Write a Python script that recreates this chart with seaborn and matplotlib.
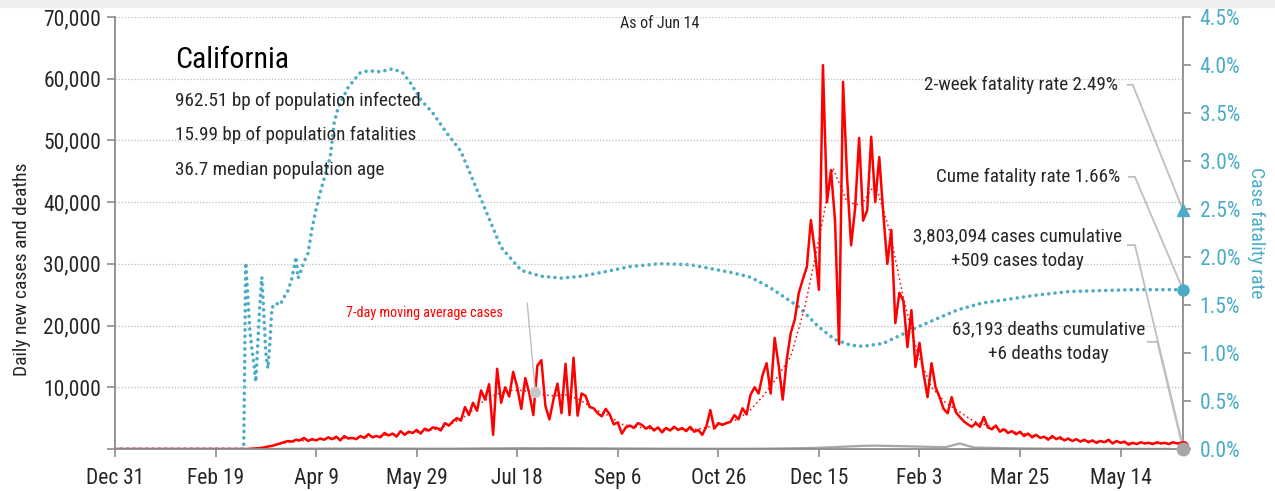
import numpy as np
import pandas as pd
import matplotlib
matplotlib.use('Agg')
import matplotlib.pyplot as plt
import seaborn as sns
from matplotlib.ticker import FuncFormatter
from matplotlib import font_manager

# ---- data ----
start_date = '2019-12-31'
end_date = '2021-06-14'

# daily new cases, sampled every 2 days from Dec 31 2019
daily_cases = [
    0, 0, 0, 0, 0, 0, 0, 0, 0, 0, 0, 0, 0, 0, 0, 0, 0,
    0, 0, 0, 0, 0, 0, 0, 0, 0, 0, 0, 0, 0, 0, 0, 0, 0,
    50, 100, 150, 250, 400, 500, 700, 900, 1100, 1300, 1200, 1500, 1400, 1800, 1300, 1600,
    1400, 1700, 1500, 1900, 1600, 2000, 1400, 2100, 1700, 1800, 1600, 2100, 1800, 2400, 1900, 2100,
    1900, 2600, 2200, 2500, 2000, 2900, 2300, 2800, 2600, 3100, 2500, 3300, 3000, 3500, 3400, 3000,
    4200, 3800, 4500, 5000, 4600, 6800, 5500, 7500, 6200, 9500, 8000, 10500, 2300, 13000, 7500, 10000,
    8500, 12500, 10000, 6500, 11500, 9000, 5500, 13500, 14400, 7000, 4800, 8000, 10600, 5800, 13800, 5500,
    14800, 5400, 9000, 8600, 6800, 6600, 5800, 5300, 6500, 5600, 4000, 4300, 2500, 3500, 3800, 3400,
    4200, 3900, 3300, 3700, 3000, 3500, 2700, 3400, 3000, 3600, 3100, 3400, 2900, 3600, 2800, 3100,
    2300, 3600, 6300, 3300, 4200, 3900, 4200, 4400, 5500, 4800, 6600, 5600, 8800, 10000, 9000, 12000,
    13900, 9000, 18000, 13500, 8000, 14500, 18800, 21000, 25300, 27500, 29500, 37100, 32000, 25800, 62200, 40000,
    45200, 37000, 17000, 59500, 44000, 33000, 39000, 50400, 37000, 38700, 50600, 40000, 47300, 38200, 30000, 35500,
    20400, 25300, 24000, 16500, 22500, 13300, 17200, 12300, 8400, 13900, 10000, 8400, 6500, 5800, 8400, 6000,
    5200, 4500, 4000, 3600, 4200, 3600, 5200, 3500, 3200, 3800, 2800, 3200, 2600, 2900, 2400, 2800,
    2100, 2500, 1900, 2300, 1800, 2000, 1500, 2100, 1600, 1900, 1400, 1700, 1300, 1600, 1200, 1500,
    1100, 1400, 1000, 1300, 1100, 1500, 900, 1300, 1000, 1200, 700, 1000, 800, 1100, 900, 1000,
    800, 1100, 900, 1000, 800, 1100, 900, 1000,
]

# 7-day moving average of cases, weekly from Dec 31 2019
ma_cases = [
    0, 0, 0, 0, 0, 0, 0, 0, 0, 0,
    100, 400, 1000, 1300, 1500, 1600, 1700, 1800, 2000, 2200,
    2400, 2600, 2900, 3300, 4200, 5500, 7500, 8800, 9500, 9500,
    9000, 8600, 8800, 8000, 6500, 5500, 4000, 3600, 3300, 3200,
    3200, 3100, 3500, 4000, 4600, 6000, 8500, 11500, 15000, 23000,
    34000, 45500, 40000, 39500, 43000, 35500, 24500, 15500, 10000, 7500,
    6000, 4500, 3800, 3200, 2700, 2300, 1900, 1600, 1400, 1300,
    1200, 1100, 1000, 950, 900, 900,
]

# daily deaths, weekly from Dec 31 2019
daily_deaths = [
    0, 0, 0, 0, 0, 0, 0, 0, 0, 0,
    0, 5, 40, 60, 70, 80, 75, 80, 85, 75,
    70, 65, 60, 55, 60, 80, 100, 110, 130, 140,
    130, 140, 130, 120, 110, 100, 90, 80, 70, 60,
    55, 50, 45, 45, 45, 50, 60, 80, 110, 150,
    200, 300, 400, 500, 550, 500, 450, 400, 350, 300,
    900, 250, 200, 150, 110, 90, 70, 60, 50, 45,
    40, 35, 30, 25, 20, 20,
]

# case fatality rate (%), day offsets from Dec 31 2019
cfr_day = [0, 64, 65, 66, 67, 68, 69, 70, 71, 72, 73, 74, 75, 76, 77, 78, 80, 82, 84, 86,
           88, 90, 91, 92, 94, 96, 98, 100, 102, 107, 109, 111, 116, 122, 126, 132, 138, 143, 147, 152,
           158, 165, 172, 182, 192, 202, 212, 222, 232, 242, 256, 271, 286, 296, 306, 316, 325, 333, 340, 350,
           358, 366, 372, 382, 389, 399, 409, 419, 431, 441, 457, 474, 490, 507, 531]
cfr_pct = [0, 0, 1.94, 1.6, 1.25, 1.05, 0.9, 0.7, 1.1, 1.5, 1.79, 1.4, 1.0, 0.84, 1.1, 1.47, 1.52, 1.5, 1.58, 1.65,
           1.78, 2.0, 1.78, 1.83, 1.95, 2.04, 2.3, 2.5, 2.67, 3.04, 3.4, 3.56, 3.77, 3.92, 3.94, 3.93, 3.96, 3.92, 3.81, 3.64,
           3.5, 3.29, 3.1, 2.6, 2.1, 1.86, 1.8, 1.78, 1.8, 1.84, 1.9, 1.93, 1.92, 1.88, 1.84, 1.79, 1.69, 1.58, 1.48, 1.27,
           1.14, 1.08, 1.07, 1.1, 1.17, 1.27, 1.36, 1.45, 1.52, 1.55, 1.6, 1.64, 1.65, 1.66, 1.66]

xtick_labels = ['Dec 31', 'Feb 19', 'Apr 9', 'May 29', 'Jul 18', 'Sep 6',
                'Oct 26', 'Dec 15', 'Feb 3', 'Mar 25', 'May 14']

state = 'California'
stats_lines = ['962.51 bp of population infected',
               '15.99 bp of population fatalities',
               '36.7 median population age']
cases_today = 509
deaths_today = 6
cume_cfr = 1.66
two_week_cfr = 2.49
ma_marker_day = 209
ma_marker_value = 9240

# ---- style ----
sns.set_theme(style='white')
# pick a condensed face if one is installed, else plain Roboto
installed = {f.name for f in font_manager.fontManager.ttflist}
fams = [f for f in ['Roboto Condensed', 'DejaVu Sans Condensed', 'Liberation Sans Narrow']
        if f in installed]
plt.rcParams['font.family'] = fams + ['Roboto', 'DejaVu Sans']
condensed = len(fams) > 0
k = 1.0 if condensed else 0.88

RED = '#FF0000'
TEAL = '#4BACC6'
GRAY = '#A6A6A6'
LEAD = '#BFBFBF'
TXT = '#262626'

t0 = pd.Timestamp(start_date)
t_end = pd.Timestamp(end_date)
case_dates = pd.date_range(start_date, periods=len(daily_cases), freq='2D')
week_dates = pd.date_range(start_date, periods=len(ma_cases), freq='7D')
cfr_dates = t0 + pd.to_timedelta(cfr_day, unit='D')

fig = plt.figure(figsize=(12.75, 4.91), dpi=100)
ax = fig.add_axes([0.0902, 0.0855, 0.8376, 0.8799])
ax2 = ax.twinx()
ax.set_zorder(ax2.get_zorder() + 1)
ax.patch.set_visible(False)

# grid lines
for v in range(10000, 70001, 10000):
    ax.axhline(v, color='#BDBDBD', lw=0.9, ls=(0, (1, 1.5)), zorder=0)

# fatality rate (right axis)
sns.lineplot(x=cfr_dates, y=cfr_pct, ax=ax2, color=TEAL, lw=2.6,
             linestyle=(0, (0.01, 1.75)), dash_capstyle='round')

# deaths, cases, moving average
sns.lineplot(x=week_dates, y=daily_deaths, ax=ax, color=GRAY, lw=1.6)
sns.lineplot(x=case_dates, y=daily_cases, ax=ax, color=RED, lw=1.8)
sns.lineplot(x=week_dates, y=ma_cases, ax=ax, color=RED, lw=1.1,
             linestyle=(0, (1, 2)))

# end markers
ax.plot([t_end], [cases_today], 'o', color=RED, ms=7, clip_on=False, zorder=6)
ax.plot([t_end], [deaths_today], 'o', color=GRAY, ms=9, clip_on=False, zorder=7)
ax2.plot([t_end], [cume_cfr], 'o', color=TEAL, ms=8, clip_on=False, zorder=6)
ax2.plot([t_end], [two_week_cfr], '^', color=TEAL, ms=9, clip_on=False, zorder=6)
ma_date = t0 + pd.Timedelta(days=ma_marker_day)
ax.plot([ma_date], [ma_marker_value], 'o', color='#C8C8C8', ms=7, zorder=6)

# axes
ax.set_xlim(t0, t_end)
ax.set_ylim(0, 70000)
ax2.set_ylim(0, 4.5)
ax.set_xticks(pd.date_range(start_date, periods=len(xtick_labels), freq='50D'))
ax.set_xticklabels(xtick_labels)
ax.set_yticks(range(0, 70001, 10000))
ax.yaxis.set_major_formatter(FuncFormatter(lambda v, p: '' if v == 0 else f'{int(v):,}'))
ax2.set_yticks(np.arange(0, 4.51, 0.5))
ax2.yaxis.set_major_formatter(FuncFormatter(lambda v, p: f'{v:.1f}%'))

for a in (ax, ax2):
    for s in a.spines.values():
        s.set_visible(False)
ax.spines['left'].set_visible(True)
ax.spines['bottom'].set_visible(True)
ax2.spines['right'].set_visible(True)
for s in (ax.spines['left'], ax.spines['bottom'], ax2.spines['right']):
    s.set_color('#8C8C8C')
    s.set_linewidth(1.3)

tick_fs = 15.5 * k
ax.tick_params(axis='x', length=6, width=1.2, color='#8C8C8C', labelsize=tick_fs,
               labelcolor=TXT, pad=8, bottom=True)
ax.tick_params(axis='y', length=6, width=1.2, color='#8C8C8C', labelsize=tick_fs,
               labelcolor=TXT, pad=4, left=True)
ax2.tick_params(axis='y', length=6, width=1.2, color='#8C8C8C', labelsize=tick_fs,
                labelcolor=TEAL, pad=6, right=True)

ax.set_xlabel('')
ax.set_ylabel('Daily new cases and deaths', fontsize=14 * k, color=TXT)
ax.yaxis.set_label_coords(-0.079, 0.417)
ax2.set_ylabel('Case fatality rate', fontsize=14 * k, color=TEAL, rotation=270, labelpad=18)

body_fs = 13.8 * k
# text blocks
ax.text(0.056, 0.90, state, transform=ax.transAxes, fontsize=21.5 * k, color='black', va='center')
for i, line in enumerate(stats_lines):
    ax.text(0.056, 0.806 - i * 0.08, line, transform=ax.transAxes, fontsize=body_fs,
            color=TXT, va='center')
ax.text(0.510, 0.984, 'As of Jun 14', transform=ax.transAxes, fontsize=11.5 * k,
        color=TXT, ha='center', va='center')
ax.text(0.290, 0.315, '7-day moving average cases', transform=ax.transAxes,
        fontsize=10.2 * k, color=RED, ha='center', va='center')

ax.text(0.939, 0.842, f'2-week fatality rate {two_week_cfr:.2f}%', transform=ax.transAxes,
        fontsize=body_fs, color=TXT, ha='right', va='center')
ax.text(0.941, 0.629, f'Cume fatality rate {cume_cfr:.2f}%', transform=ax.transAxes,
        fontsize=body_fs, color=TXT, ha='right', va='center')
ax.text(0.845, 0.463, f'3,803,094 cases cumulative\n+{cases_today} cases today',
        transform=ax.transAxes, fontsize=body_fs, color=TXT, ha='center', va='center',
        multialignment='center', linespacing=1.45)
ax.text(0.874, 0.248, f'63,193 deaths cumulative\n+{deaths_today} deaths today',
        transform=ax.transAxes, fontsize=body_fs, color=TXT, ha='center', va='center',
        multialignment='center', linespacing=1.45)


# leader lines: short horizontal tick then a diagonal to the data point
def leader(target_ax, start, knee, end):
    ax.annotate('', xy=knee, xycoords='axes fraction', xytext=start,
                textcoords='axes fraction',
                arrowprops=dict(arrowstyle='-', color=LEAD, lw=1.3, shrinkA=0, shrinkB=0))
    target_ax.annotate('', xy=end, xycoords='data', xytext=knee,
                       textcoords='axes fraction', annotation_clip=False,
                       arrowprops=dict(arrowstyle='-', color=LEAD, lw=1.3, shrinkA=0, shrinkB=0))


leader(ax2, (0.948, 0.843), (0.953, 0.843), (t_end, two_week_cfr))
leader(ax2, (0.949, 0.630), (0.955, 0.630), (t_end, cume_cfr))
leader(ax, (0.948, 0.472), (0.955, 0.472), (t_end, cases_today))
leader(ax, (0.967, 0.248), (0.976, 0.248), (t_end, deaths_today))
ax.annotate('', xy=(ma_date, ma_marker_value), xycoords='data', xytext=(0.386, 0.338),
            textcoords='axes fraction',
            arrowprops=dict(arrowstyle='-', color=LEAD, lw=1.0, shrinkA=0, shrinkB=3))

# light strip along the top of the figure
fig.patches.append(plt.Rectangle((0, 0.985), 1, 0.015, transform=fig.transFigure,
                                 color='#EFEFEF', zorder=-1))

fig.savefig('out.png', dpi=100)
